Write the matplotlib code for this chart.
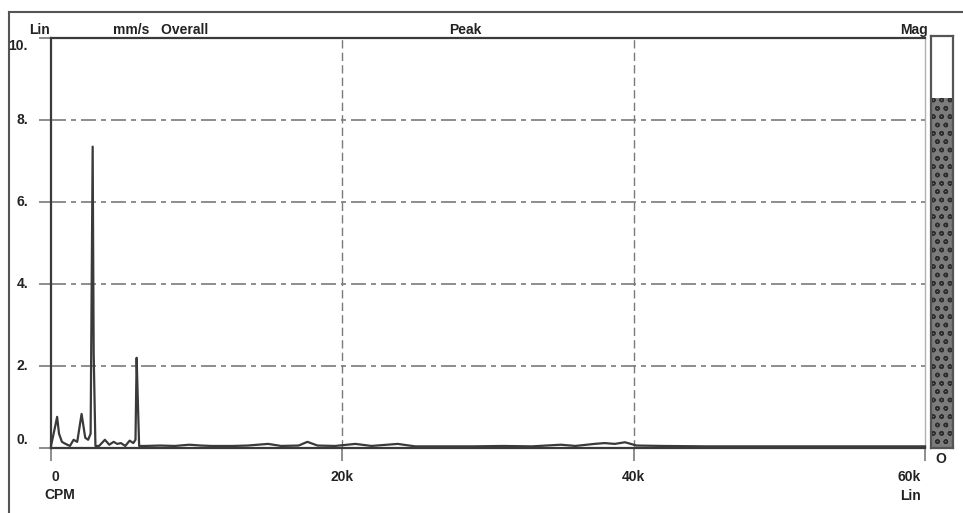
import matplotlib.pyplot as plt
from matplotlib.lines import Line2D
from matplotlib.patches import Rectangle

# spectrum readout: frequency in k CPM, amplitude in mm/s
freq_k = [0.0, 0.15, 0.3, 0.42, 0.55, 0.75, 1.0, 1.3, 1.55, 1.8, 2.1, 2.35,
          2.55, 2.72, 2.86, 2.93, 3.05, 3.3, 3.7, 4.0, 4.3, 4.55, 4.8, 5.1,
          5.4, 5.65, 5.8, 5.88, 5.95, 6.05, 6.5, 7.5, 8.5, 9.5, 10.3, 11.0,
          12.5, 13.5, 14.9, 15.8, 17.0, 17.6, 18.3, 19.5, 20.9, 22.0, 23.8,
          25.0, 27.0, 29.0, 31.0, 33.0, 35.0, 36.0, 37.3, 38.0, 38.7, 39.4,
          40.2, 42.0, 45.0, 48.0, 51.0, 54.0, 57.0, 60.0]
amp = [0.05, 0.3, 0.55, 0.76, 0.35, 0.15, 0.1, 0.05, 0.2, 0.15, 0.83, 0.25,
       0.2, 0.35, 7.35, 2.3, 0.05, 0.05, 0.2, 0.08, 0.15, 0.1, 0.12, 0.05,
       0.18, 0.12, 0.2, 2.2, 1.3, 0.05, 0.05, 0.06, 0.05, 0.08, 0.06, 0.05,
       0.05, 0.06, 0.1, 0.05, 0.06, 0.15, 0.06, 0.05, 0.1, 0.05, 0.1,
       0.04, 0.04, 0.04, 0.05, 0.04, 0.08, 0.05, 0.1, 0.12, 0.1, 0.14,
       0.06, 0.05, 0.04, 0.04, 0.04, 0.04, 0.04, 0.04]

y_ticks = [0, 2, 4, 6, 8, 10]
y_labels = ["0.", "2.", "4.", "6.", "8.", "10."]
x_ticks = [0, 20, 40, 60]
x_labels = ["0", "20k", "40k", "60k"]
mag_level = 8.5   # overall magnitude bar

W, H = 963, 513
fig = plt.figure(figsize=(W / 100, H / 100), dpi=100)
fig.patch.set_facecolor("white")

def fx(px):
    return px / W

def fy(py):
    return 1 - py / H

ax = fig.add_axes([fx(51), fy(448), fx(925) - fx(51), fy(38) - fy(448)])
ax.set_xlim(0, 60)
ax.set_ylim(0, 10)

ink = "#3a3a3a"
grid_c = "#7a7a7a"

for y in [2, 4, 6, 8]:
    ax.axhline(y, color=grid_c, lw=1.2, ls=(0, (9, 3, 3, 3)), zorder=1)
for x in [20, 40]:
    ax.axvline(x, color=grid_c, lw=1.0, ls=(0, (6, 3)), zorder=1)

ax.plot(freq_k, amp, color=ink, lw=1.6, zorder=3, clip_on=False)

for side in ["left", "bottom", "top"]:
    ax.spines[side].set_color(ink)
    ax.spines[side].set_linewidth(1.6)
ax.spines["right"].set_color("#b0b0b0")
ax.spines["right"].set_linewidth(1.0)

ax.set_xticks(x_ticks)
ax.set_yticks(y_ticks)
ax.tick_params(axis="both", direction="out", length=9, width=1.2,
               color=grid_c, labelleft=False, labelbottom=False)

txt = dict(fontsize=10, fontweight="bold", color="#222222",
           family="Liberation Sans")

for y, lab in zip(y_ticks, y_labels):
    off = 8 if y == 0 else (-8 if y == 10 else 0)
    fig.text(fx(28), fy(448 - y * 41 - off), lab, ha="right", va="center", **txt)

for x, lab in zip(x_ticks, x_labels):
    xp = 51 + x * (925 - 51) / 60
    if x == 0:
        xp = 55
    if x == 60:
        xp = 909
    fig.text(fx(xp), fy(477), lab, ha="center", va="center", **txt)
fig.text(fx(60), fy(495), "CPM", ha="center", va="center", **txt)
fig.text(fx(910), fy(496), "Lin", ha="center", va="center", **txt)

fig.text(fx(39), fy(30), "Lin", ha="center", va="center", **txt)
fig.text(fx(113), fy(30), "mm/s   Overall", ha="left", va="center", **txt)
fig.text(fx(465), fy(30), "Peak", ha="center", va="center", **txt)
fig.text(fx(928), fy(30), "Mag", ha="right", va="center", **txt)

# magnitude bar at the right edge
bar = fig.add_axes([fx(931), fy(448), fx(953) - fx(931), fy(36) - fy(448)])
bar.set_xlim(0, 1)
bar.set_ylim(0, 10)
bar.add_patch(Rectangle((0, 0), 1, mag_level, facecolor="#7c7c7c",
                        edgecolor="#2e2e2e", hatch="oo", lw=0))
bar.set_xticks([])
bar.set_yticks([])
for s in bar.spines.values():
    s.set_color("#555555")
    s.set_linewidth(1.6)
fig.text(fx(941), fy(459), "O", ha="center", va="center", **txt)

# outer frame on the left and top
fig.add_artist(Line2D([fx(9), fx(9)], [fy(12), 0], color="#555555", lw=1.5))
fig.add_artist(Line2D([fx(9), 1], [fy(12), fy(12)], color="#555555", lw=1.5))

fig.savefig("out.png", dpi=100)
